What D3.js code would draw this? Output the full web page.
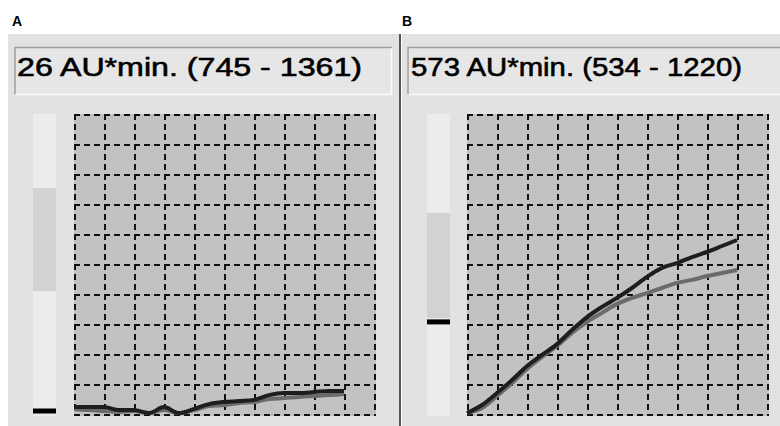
<!DOCTYPE html>
<html>
<head>
<meta charset="utf-8">
<script src="https://cdn.jsdelivr.net/npm/d3@7"></script>
<style>
  body { margin: 0; background: #fff; }
  svg { display: block; }
</style>
</head>
<body>
<svg id="chart"></svg>
<script>
// values, in grid units (10 x 10 grid)
var panelLabels = ["A", "B"];
var headerTexts = ["26 AU*min. (745 - 1361)", "573 AU*min. (534 - 1220)"];
var sampleX = [0, 0.5, 1, 1.5, 2, 2.5, 3, 3.5, 4, 4.5, 5, 5.5, 6, 6.5, 7, 7.5, 8, 8.5, 9];

var darkA = [0.23, 0.23, 0.23, 0.13, 0.13, 0.03, 0.23, 0.03, 0.17, 0.33, 0.4, 0.43, 0.47, 0.63, 0.7, 0.7, 0.73, 0.77, 0.77];
var grayA = [0.17, 0.13, 0.1, 0.07, 0.1, 0.03, 0.13, 0.03, 0.13, 0.27, 0.3, 0.37, 0.4, 0.5, 0.53, 0.57, 0.6, 0.63, 0.67];
var darkB = [0.03, 0.3, 0.7, 1.13, 1.6, 1.97, 2.33, 2.8, 3.23, 3.57, 3.87, 4.2, 4.57, 4.87, 5.03, 5.23, 5.4, 5.6, 5.8];
var grayB = [0.03, 0.2, 0.6, 1.03, 1.5, 1.9, 2.27, 2.7, 3.07, 3.37, 3.67, 3.87, 4.03, 4.2, 4.37, 4.47, 4.6, 4.7, 4.8];

// side scale bar: shaded range [low, high] and marker level
var barRanges = [[4.1, 7.53], [3.2, 6.7]];
var barMarkers = [0.1, 3.07];

var gridTicks = [0, 1, 2, 3, 4, 5, 6, 7, 8, 9, 10];

var W = 780, H = 426;
var svg = d3.select("#chart").attr("width", W).attr("height", H);

var panels = [
  {label: panelLabels[0], header: headerTexts[0], dark: darkA, gray: grayA, range: barRanges[0], marker: barMarkers[0],
   bg: [8, 399], box: [15, 392], textX: 17, textW: 345, labelX: 12, barX: 33, gridX: 74},
  {label: panelLabels[1], header: headerTexts[1], dark: darkB, gray: grayB, range: barRanges[1], marker: barMarkers[1],
   bg: [402, 780], box: [408, 800], textX: 411, textW: 331, labelX: 402, barX: 427, gridX: 467}
];

var plotTop = 114, plotBottom = 414;

panels.forEach(function(p) {
  var g = svg.append("g");

  var x = d3.scaleLinear().domain([0, 10]).range([p.gridX, p.gridX + 300]);
  var y = d3.scaleLinear().domain([0, 10]).range([plotBottom, plotTop]);

  // panel label
  g.append("text")
    .attr("x", p.labelX).attr("y", 26)
    .style("font-family", "Liberation Sans, Arial, sans-serif")
    .style("font-weight", "bold").style("font-size", "14px")
    .text(p.label);

  // panel background
  g.append("rect")
    .attr("x", p.bg[0]).attr("y", 34)
    .attr("width", p.bg[1] - p.bg[0]).attr("height", H - 34)
    .attr("fill", "#e2e2e2");

  // header box with inset border
  g.append("rect")
    .attr("x", p.box[0]).attr("y", 47)
    .attr("width", p.box[1] - p.box[0]).attr("height", 47)
    .attr("fill", "#e6e6e6");
  g.append("path")
    .attr("d", "M" + p.box[0] + ",94V47.5H" + p.box[1])
    .attr("fill", "none").attr("stroke", "#a0a0a0").attr("stroke-width", 1.5);
  g.append("path")
    .attr("d", "M" + (p.box[0] + 1) + ",94.5H" + p.box[1] + "M" + (p.box[1] - 0.5) + ",48V94")
    .attr("fill", "none").attr("stroke", "#fafafa").attr("stroke-width", 1.5);
  g.append("text")
    .attr("x", p.textX).attr("y", 76)
    .attr("textLength", p.textW).attr("lengthAdjust", "spacingAndGlyphs")
    .style("font-family", "Liberation Sans, Arial, sans-serif")
    .style("font-size", "26px").style("fill", "#000")
    .style("stroke", "#000").style("stroke-width", 0.6)
    .text(p.header);

  // scale bar
  g.append("rect")
    .attr("x", p.barX).attr("y", plotTop)
    .attr("width", 23).attr("height", 302)
    .attr("fill", "#ececec");
  g.append("rect")
    .attr("x", p.barX).attr("y", y(p.range[1]))
    .attr("width", 23).attr("height", y(p.range[0]) - y(p.range[1]))
    .attr("fill", "#d2d2d2");
  g.append("rect")
    .attr("x", p.barX).attr("y", y(p.marker) - 2.5)
    .attr("width", 23).attr("height", 5)
    .attr("fill", "#000");

  // plot area
  g.append("rect")
    .attr("x", x(0)).attr("y", y(10))
    .attr("width", x(10) - x(0) + 2).attr("height", y(0) - y(10) + 2)
    .attr("fill", "#c2c2c2");

  // dashed grid
  g.selectAll(".vline").data(gridTicks).enter().append("line")
    .attr("x1", function(d) { return x(d) + 1; }).attr("x2", function(d) { return x(d) + 1; })
    .attr("y1", y(10)).attr("y2", y(0) + 2)
    .attr("stroke", "#111").attr("stroke-width", 2)
    .attr("stroke-dasharray", "6,4");
  g.selectAll(".hline").data(gridTicks).enter().append("line")
    .attr("y1", function(d) { return y(d) + 1; }).attr("y2", function(d) { return y(d) + 1; })
    .attr("x1", x(0)).attr("x2", x(10) + 2)
    .attr("stroke", "#111").attr("stroke-width", 2)
    .attr("stroke-dasharray", "6,4");

  var line = d3.line()
    .x(function(d, i) { return x(sampleX[i]); })
    .y(function(d) { return y(d); })
    .curve(d3.curveMonotoneX);

  g.append("path")
    .attr("d", line(p.gray))
    .attr("fill", "none").attr("stroke", "#6b6b6b").attr("stroke-width", 4);
  g.append("path")
    .attr("d", line(p.dark))
    .attr("fill", "none").attr("stroke", "#1e1e1e").attr("stroke-width", 4);
});

// divider between panels
svg.append("line")
  .attr("x1", 400).attr("x2", 400).attr("y1", 34).attr("y2", H)
  .attr("stroke", "#555").attr("stroke-width", 2);
</script>
</body>
</html>
